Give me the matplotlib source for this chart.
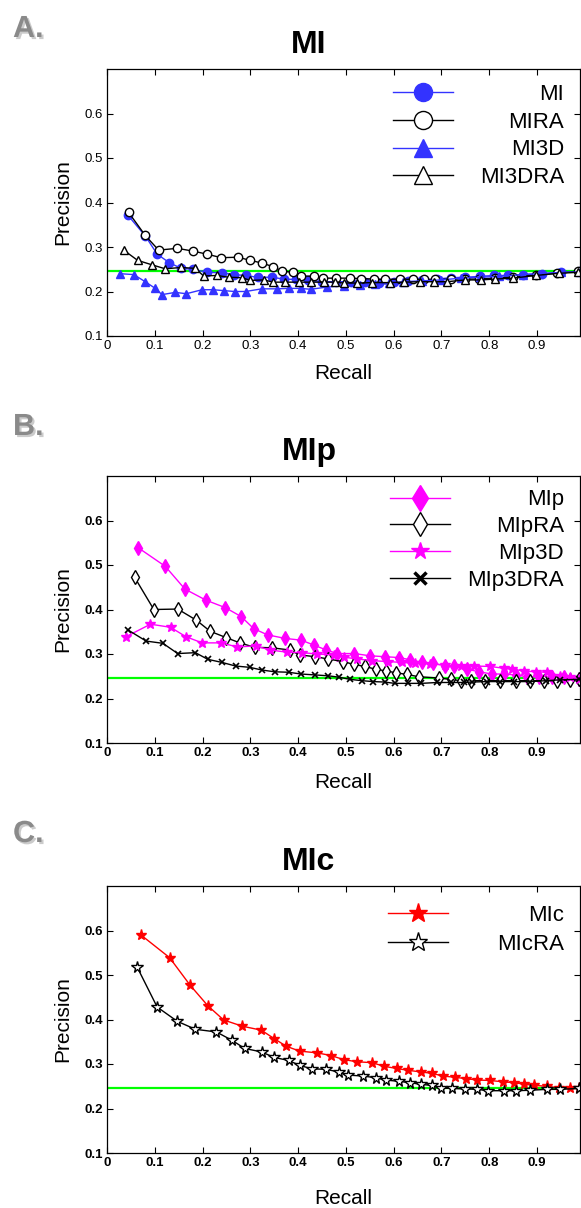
import numpy as np
import matplotlib
matplotlib.use("Agg")
import matplotlib.pyplot as plt
import matplotlib.patheffects as pe

plt.rcParams['font.family'] = ['Liberation Sans', 'DejaVu Sans']

# ---- data ----
baseline = 0.245

# panel A
mi_x = [0.044, 0.080, 0.105, 0.130, 0.155, 0.180, 0.210, 0.240, 0.265, 0.290, 0.315, 0.345, 0.370,
        0.395, 0.420, 0.450, 0.480, 0.510, 0.540, 0.570, 0.600, 0.630, 0.660, 0.690, 0.720, 0.750,
        0.780, 0.810, 0.840, 0.870, 0.910, 0.950, 0.990]
mi_y = [0.371, 0.325, 0.284, 0.265, 0.252, 0.250, 0.243, 0.242, 0.238, 0.236, 0.232, 0.232, 0.228,
        0.227, 0.225, 0.222, 0.222, 0.222, 0.221, 0.220, 0.221, 0.224, 0.226, 0.228, 0.231, 0.232,
        0.234, 0.236, 0.236, 0.238, 0.240, 0.243, 0.245]
mira_x = [0.045, 0.080, 0.108, 0.147, 0.179, 0.209, 0.239, 0.274, 0.300, 0.324, 0.347, 0.366, 0.389,
          0.406, 0.434, 0.452, 0.480, 0.508, 0.532, 0.558, 0.581, 0.614, 0.641, 0.663, 0.687, 0.719,
          0.749, 0.778, 0.813, 0.850, 0.897, 0.942, 0.986]
mira_y = [0.378, 0.326, 0.293, 0.297, 0.291, 0.284, 0.276, 0.277, 0.270, 0.264, 0.256, 0.246, 0.243,
          0.235, 0.234, 0.230, 0.230, 0.230, 0.229, 0.228, 0.227, 0.228, 0.227, 0.227, 0.227, 0.228,
          0.228, 0.228, 0.230, 0.232, 0.237, 0.241, 0.245]
mi3d_x = [0.028, 0.056, 0.080, 0.101, 0.115, 0.143, 0.166, 0.199, 0.222, 0.244, 0.267, 0.290, 0.324,
          0.355, 0.381, 0.405, 0.426, 0.461, 0.495, 0.530, 0.560, 0.590, 0.620, 0.660, 0.700, 0.740,
          0.780, 0.820, 0.870, 0.905, 0.950, 0.990]
mi3d_y = [0.240, 0.238, 0.222, 0.207, 0.193, 0.198, 0.195, 0.204, 0.204, 0.202, 0.200, 0.200, 0.206,
          0.206, 0.207, 0.207, 0.205, 0.210, 0.213, 0.214, 0.216, 0.218, 0.222, 0.224, 0.226, 0.230,
          0.232, 0.234, 0.238, 0.240, 0.243, 0.244]
mi3dra_x = [0.035, 0.064, 0.094, 0.122, 0.155, 0.185, 0.202, 0.230, 0.255, 0.283, 0.300, 0.328, 0.348,
            0.373, 0.401, 0.426, 0.454, 0.478, 0.495, 0.523, 0.555, 0.593, 0.621, 0.656, 0.684, 0.712,
            0.750, 0.782, 0.813, 0.850, 0.897, 0.946, 0.986]
mi3dra_y = [0.293, 0.270, 0.260, 0.251, 0.254, 0.252, 0.235, 0.236, 0.232, 0.231, 0.225, 0.226, 0.221,
            0.221, 0.221, 0.221, 0.221, 0.221, 0.219, 0.219, 0.220, 0.220, 0.221, 0.222, 0.222, 0.222,
            0.226, 0.226, 0.228, 0.230, 0.236, 0.241, 0.243]

# panel B
mip_x = [0.065, 0.122, 0.163, 0.207, 0.248, 0.281, 0.307, 0.336, 0.373, 0.407, 0.433, 0.459, 0.482,
         0.518, 0.550, 0.581, 0.611, 0.635, 0.659, 0.682, 0.707, 0.726, 0.754, 0.778, 0.806, 0.830,
         0.855, 0.879, 0.904, 0.932, 0.956, 0.987]
mip_y = [0.539, 0.497, 0.446, 0.421, 0.404, 0.384, 0.357, 0.343, 0.335, 0.331, 0.320, 0.309, 0.301,
         0.301, 0.296, 0.294, 0.292, 0.287, 0.281, 0.279, 0.274, 0.272, 0.266, 0.260, 0.255, 0.255,
         0.253, 0.249, 0.248, 0.249, 0.249, 0.244]
mipra_x = [0.058, 0.098, 0.148, 0.187, 0.216, 0.249, 0.278, 0.309, 0.345, 0.382, 0.403, 0.435, 0.462,
           0.493, 0.516, 0.539, 0.562, 0.583, 0.604, 0.628, 0.652, 0.694, 0.719, 0.740, 0.761, 0.792,
           0.823, 0.855, 0.886, 0.914, 0.942, 0.970, 0.987]
mipra_y = [0.472, 0.400, 0.401, 0.376, 0.351, 0.337, 0.325, 0.315, 0.314, 0.309, 0.298, 0.294, 0.289,
           0.283, 0.277, 0.272, 0.266, 0.262, 0.258, 0.254, 0.249, 0.246, 0.243, 0.240, 0.240, 0.240,
           0.240, 0.240, 0.240, 0.240, 0.240, 0.242, 0.244]
mip3d_x = [0.040, 0.091, 0.133, 0.165, 0.199, 0.239, 0.272, 0.311, 0.342, 0.377, 0.408, 0.440, 0.475,
           0.495, 0.523, 0.555, 0.588, 0.618, 0.645, 0.677, 0.708, 0.740, 0.768, 0.802, 0.830, 0.848,
           0.872, 0.897, 0.921, 0.949, 0.970, 0.987]
mip3d_y = [0.339, 0.367, 0.360, 0.339, 0.325, 0.325, 0.316, 0.318, 0.309, 0.304, 0.303, 0.300, 0.298,
           0.293, 0.289, 0.285, 0.283, 0.281, 0.279, 0.278, 0.275, 0.272, 0.273, 0.272, 0.268, 0.266,
           0.262, 0.260, 0.259, 0.251, 0.248, 0.244]
mip3dra_x = [0.044, 0.082, 0.117, 0.148, 0.185, 0.211, 0.241, 0.269, 0.299, 0.324, 0.351, 0.380, 0.406,
             0.435, 0.463, 0.485, 0.509, 0.534, 0.557, 0.581, 0.602, 0.629, 0.658, 0.691, 0.719, 0.747,
             0.764, 0.796, 0.823, 0.851, 0.886, 0.918, 0.949, 0.987]
mip3dra_y = [0.354, 0.329, 0.324, 0.301, 0.303, 0.288, 0.281, 0.273, 0.270, 0.264, 0.260, 0.259, 0.255,
             0.253, 0.251, 0.248, 0.243, 0.240, 0.238, 0.237, 0.234, 0.234, 0.234, 0.236, 0.236, 0.236,
             0.237, 0.238, 0.238, 0.238, 0.238, 0.240, 0.242, 0.243]

# panel C
mic_x = [0.071, 0.131, 0.174, 0.211, 0.244, 0.283, 0.323, 0.350, 0.375, 0.403, 0.440, 0.469, 0.495,
         0.523, 0.555, 0.579, 0.606, 0.629, 0.658, 0.680, 0.703, 0.729, 0.752, 0.775, 0.801, 0.829,
         0.851, 0.872, 0.893, 0.921, 0.946, 0.970, 0.987]
mic_y = [0.590, 0.539, 0.477, 0.431, 0.399, 0.385, 0.376, 0.357, 0.340, 0.329, 0.325, 0.319, 0.310,
         0.305, 0.303, 0.295, 0.290, 0.286, 0.282, 0.279, 0.273, 0.270, 0.267, 0.264, 0.263, 0.260,
         0.258, 0.255, 0.252, 0.250, 0.246, 0.245, 0.245]
micra_x = [0.063, 0.105, 0.147, 0.185, 0.229, 0.262, 0.288, 0.324, 0.349, 0.380, 0.403, 0.429, 0.459,
           0.485, 0.505, 0.535, 0.564, 0.583, 0.611, 0.635, 0.658, 0.680, 0.700, 0.722, 0.750, 0.775,
           0.798, 0.830, 0.857, 0.886, 0.920, 0.949, 0.987]
micra_y = [0.518, 0.428, 0.396, 0.378, 0.372, 0.353, 0.335, 0.327, 0.315, 0.308, 0.297, 0.289, 0.288,
           0.282, 0.275, 0.273, 0.269, 0.264, 0.261, 0.258, 0.254, 0.252, 0.246, 0.245, 0.244, 0.243,
           0.240, 0.240, 0.240, 0.241, 0.243, 0.243, 0.245]

blue = '#3333ff'
magenta = '#ff00ff'
red = '#ff0000'

W, H = 581, 1208
fig = plt.figure(figsize=(W / 100, H / 100), dpi=100)


def px_axes(left, top, right, bottom):
    return fig.add_axes([left / W, 1 - bottom / H, (right - left) / W, (bottom - top) / H])


def style_axes(ax, bold, xlab_dy):
    ax.set_xlim(0, 0.99)
    ax.set_ylim(0.1, 0.7)
    ax.set_xticks(np.arange(0, 0.95, 0.1))
    ax.set_xticklabels(['0'] + ['%.1f' % v for v in np.arange(0.1, 0.95, 0.1)])
    ax.set_yticks(np.arange(0.1, 0.65, 0.1))
    ax.set_yticklabels(['%.1f' % v for v in np.arange(0.1, 0.65, 0.1)])
    ax.tick_params(direction='in', length=4, width=0.8, top=True, right=True,
                   labelsize=9.5, pad=3)
    for lab in ax.get_xticklabels() + ax.get_yticklabels():
        lab.set_fontweight('bold' if bold else 'normal')
    for s in ax.spines.values():
        s.set_linewidth(0.9)
    ax.set_ylabel('Precision', fontsize=15, va='center')
    ax.yaxis.set_label_coords(-44 / 473, 0.5)
    ax.set_xlabel('Recall', fontsize=15, va='top')
    ax.xaxis.set_label_coords(0.5, -xlab_dy / 267)
    ax.axhline(baseline, color='#00ff00', lw=1.6, zorder=1)


def add_title(ax, txt):
    ax.text(202 / 473, 1 + 16 / 267, txt, transform=ax.transAxes, ha='center',
            va='baseline', fontsize=23, fontweight='bold')


def add_letter(txt, x, ybase):
    t = fig.text(x / W, 1 - ybase / H, txt, fontsize=22, fontweight='bold', color='#8a8a8a',
                 va='baseline', ha='left')
    t.set_path_effects([pe.SimplePatchShadow(offset=(1.5, -1.5), shadow_rgbFace='#999999', alpha=0.5),
                        pe.Normal()])


legends = []


def add_legend(ax, ytop, pad, msizes, lspace=0.3):
    leg = ax.legend(loc='upper right', bbox_to_anchor=(0.966, ytop), frameon=False, fontsize=16,
                    handlelength=2.7, handletextpad=pad, labelspacing=lspace, borderpad=0,
                    borderaxespad=0)
    for h, ms in zip(leg.legend_handles, msizes):
        h.set_markersize(ms)
    legends.append(leg)
    return leg


# ---- panel A ----
axA = px_axes(107, 69, 580, 336)
style_axes(axA, False, 28)
axA.plot(mi_x, mi_y, '-o', color=blue, mfc=blue, mec=blue, ms=6, lw=1, label='MI')
axA.plot(mira_x, mira_y, '-o', color='black', mfc='white', mec='black', ms=6, mew=1, lw=1, label='MIRA')
axA.plot(mi3d_x, mi3d_y, '-^', color=blue, mfc=blue, mec=blue, ms=6, lw=1, label='MI3D')
axA.plot(mi3dra_x, mi3dra_y, '-^', color='black', mfc='white', mec='black', ms=6, mew=1, lw=1,
         label='MI3DRA')
add_legend(axA, 0.944, 1.2, [13, 13, 13, 13])
add_title(axA, 'MI')
add_letter('A.', 13, 37)

# ---- panel B ----
axB = px_axes(107, 476, 580, 743)
style_axes(axB, True, 30)
axB.plot(mip_x, mip_y, '-d', color=magenta, mfc=magenta, mec=magenta, ms=7, lw=1, label='MIp')
axB.plot(mipra_x, mipra_y, '-d', color='black', mfc='white', mec='black', ms=7, mew=1, lw=1,
         label='MIpRA')
axB.plot(mip3d_x, mip3d_y, '-*', color=magenta, mfc=magenta, mec=magenta, ms=7, lw=1, label='MIp3D')
axB.plot(mip3dra_x, mip3dra_y, '-x', color='black', ms=4.5, mew=1.2, lw=1, label='MIp3DRA')
legB = add_legend(axB, 0.95, 0.8, [13, 12, 13, 8], lspace=0.26)
legB.legend_handles[3].set_markeredgewidth(2.5)
add_title(axB, 'MIp')
add_letter('B.', 13, 435)

# ---- panel C ----
axC = px_axes(107, 886, 580, 1153)
style_axes(axC, True, 36)
axC.plot(mic_x, mic_y, '-*', color=red, mfc=red, mec=red, ms=8, lw=1, label='MIc')
axC.plot(micra_x, micra_y, '-*', color='black', mfc='white', mec='black', ms=8.5, mew=1, lw=1,
         label='MIcRA')
add_legend(axC, 0.93, 2.2, [14, 14], lspace=0.36)
add_title(axC, 'MIc')
add_letter('C.', 13, 842)

# right-align legend labels (MATLAB style)
fig.canvas.draw()
renderer = fig.canvas.get_renderer()
for leg in legends:
    texts = leg.get_texts()
    widths = [t.get_window_extent(renderer).width for t in texts]
    mw = max(widths)
    for t, w in zip(texts, widths):
        t.set_x(mw - w)

fig.savefig('out.png', dpi=100)
